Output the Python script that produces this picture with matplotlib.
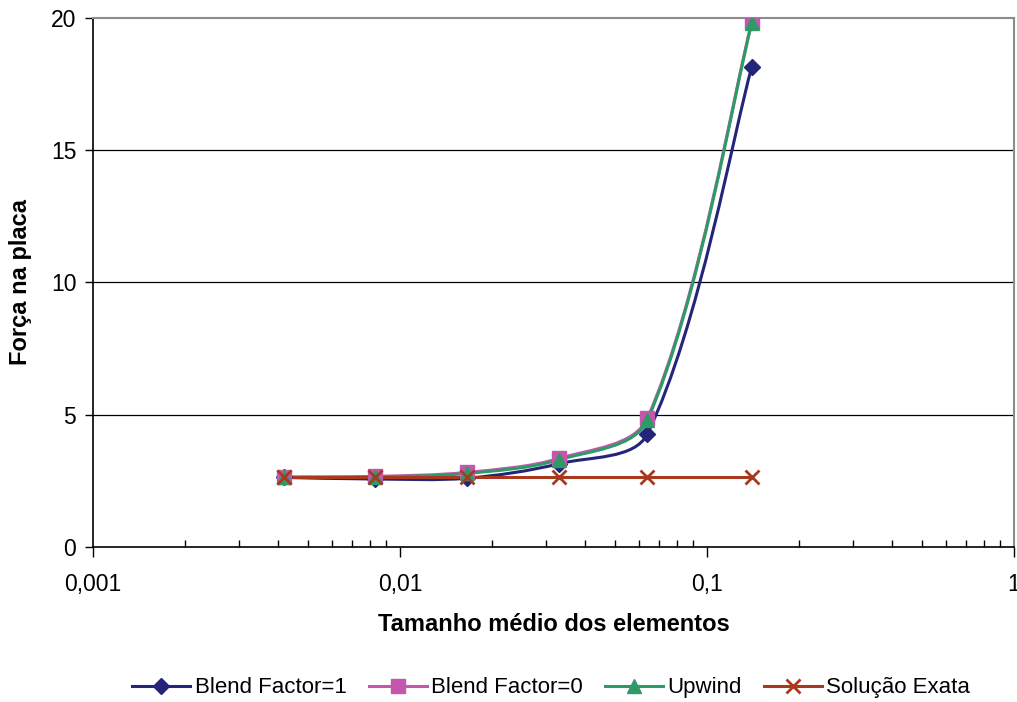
import numpy as np
import matplotlib
matplotlib.use("Agg")
import matplotlib.pyplot as plt
from matplotlib.path import Path
from matplotlib.patches import PathPatch
from matplotlib.lines import Line2D
from matplotlib.ticker import FixedLocator, FixedFormatter, LogLocator, NullFormatter

plt.rcParams['font.family'] = ['Liberation Sans', 'DejaVu Sans']

# ---- data ----
tamanho = [0.0042, 0.0083, 0.0165, 0.033, 0.064, 0.14]
blend1 = [2.63, 2.57, 2.60, 3.15, 4.28, 18.15]
blend0 = [2.65, 2.67, 2.82, 3.35, 4.87, 19.85]
upwind = [2.63, 2.65, 2.78, 3.30, 4.80, 19.80]
exata = [2.65, 2.65, 2.65, 2.65, 2.65, 2.65]

series_names = ["Blend Factor=1", "Blend Factor=0", "Upwind", "Solução Exata"]
x_tick_vals = [0.001, 0.01, 0.1, 1]
x_tick_labels = ["0,001", "0,01", "0,1", "1"]
y_tick_vals = [0, 5, 10, 15, 20]
y_tick_labels = ["0", "5", "10", "15", "20"]

colors = ["#24247A", "#C457AC", "#2E9A68", "#A8391F"]
markers = ["D", "s", "^", "x"]
msizes = [8, 9.5, 9.5, 10]


def smooth_path(ax, xs, ys, s=1.0 / 3.0):
    """Excel-like smoothed line: Bezier handles sized by neighbouring segment lengths in display space."""
    P = ax.transData.transform(np.column_stack([xs, ys]))
    n = len(P)
    d = np.hypot(*(np.diff(P, axis=0).T))
    T = np.zeros_like(P)
    for i in range(n):
        T[i] = P[min(i + 1, n - 1)] - P[max(i - 1, 0)]
    pts = [P[0]]
    codes = [Path.MOVETO]
    for i in range(n - 1):
        dl = d[i - 1] if i > 0 else d[i]
        dr = d[i + 1] if i + 1 < n - 1 else d[i]
        c1 = P[i] + T[i] * s * d[i] / (dl + d[i])
        c2 = P[i + 1] - T[i + 1] * s * d[i] / (d[i] + dr)
        pts += [c1, c2, P[i + 1]]
        codes += [Path.CURVE4] * 3
    data_pts = ax.transData.inverted().transform(np.array(pts))
    return Path(data_pts, codes)


fig = plt.figure(figsize=(10.17, 7.02), dpi=100)
ax = fig.add_axes([0.0914, 0.2208, 0.9056, 0.7536])
ax.set_xscale('log')
ax.set_xlim(0.001, 1)
ax.set_ylim(0, 20)

all_series = [blend1, blend0, upwind, exata]
handles = []
for k, (vals, name) in enumerate(zip(all_series, series_names)):
    if k == 3:
        ax.plot(tamanho, vals, color=colors[k], lw=2.2, zorder=3)
    else:
        patch = PathPatch(smooth_path(ax, tamanho, vals), facecolor='none',
                          edgecolor=colors[k], lw=2.2, zorder=3)
        ax.add_patch(patch)
    ax.plot(tamanho, vals, linestyle='none', marker=markers[k], ms=msizes[k],
            color=colors[k], mec=colors[k], mew=2 if k == 3 else 1,
            zorder=4 + (k if k != 3 else 3))
    handles.append(Line2D([0], [0], color=colors[k], lw=2.2, marker=markers[k],
                          ms=msizes[k], mew=2 if k == 3 else 1, label=name))

# grid
for yv in y_tick_vals[1:-1]:
    ax.axhline(yv, color='black', lw=0.9, zorder=1)

# spines
for s in ['left', 'bottom']:
    ax.spines[s].set_color('black')
    ax.spines[s].set_linewidth(1.2)
for s in ['top', 'right']:
    ax.spines[s].set_color('#8c8c8c')
    ax.spines[s].set_linewidth(1.5)

ax.xaxis.set_major_locator(FixedLocator(x_tick_vals))
ax.xaxis.set_major_formatter(FixedFormatter(x_tick_labels))
ax.xaxis.set_minor_locator(LogLocator(base=10, subs=np.arange(2, 10), numticks=20))
ax.xaxis.set_minor_formatter(NullFormatter())
ax.yaxis.set_major_locator(FixedLocator(y_tick_vals))
ax.yaxis.set_major_formatter(FixedFormatter(y_tick_labels))

ax.tick_params(axis='x', which='major', direction='out', length=7, width=1, labelsize=16.5, pad=12)
ax.tick_params(axis='x', which='minor', direction='in', length=5, width=1)
ax.tick_params(axis='y', which='major', direction='out', length=6, width=1, labelsize=16.5, pad=6)
ax.tick_params(axis='y', which='minor', left=False)

ax.set_xlabel("Tamanho médio dos elementos", fontsize=17, fontweight='bold')
ax.xaxis.set_label_coords(0.5, -0.125)
ax.set_ylabel("Força na placa", fontsize=17, fontweight='bold')
ax.yaxis.set_label_coords(-0.066, 0.5)

fig.legend(handles=handles, loc='center', bbox_to_anchor=(0.542, 0.02), ncol=4,
           frameon=False, fontsize=16, handlelength=2.6, handletextpad=0.2,
           columnspacing=1.0)

fig.savefig("out.png", dpi=100)
